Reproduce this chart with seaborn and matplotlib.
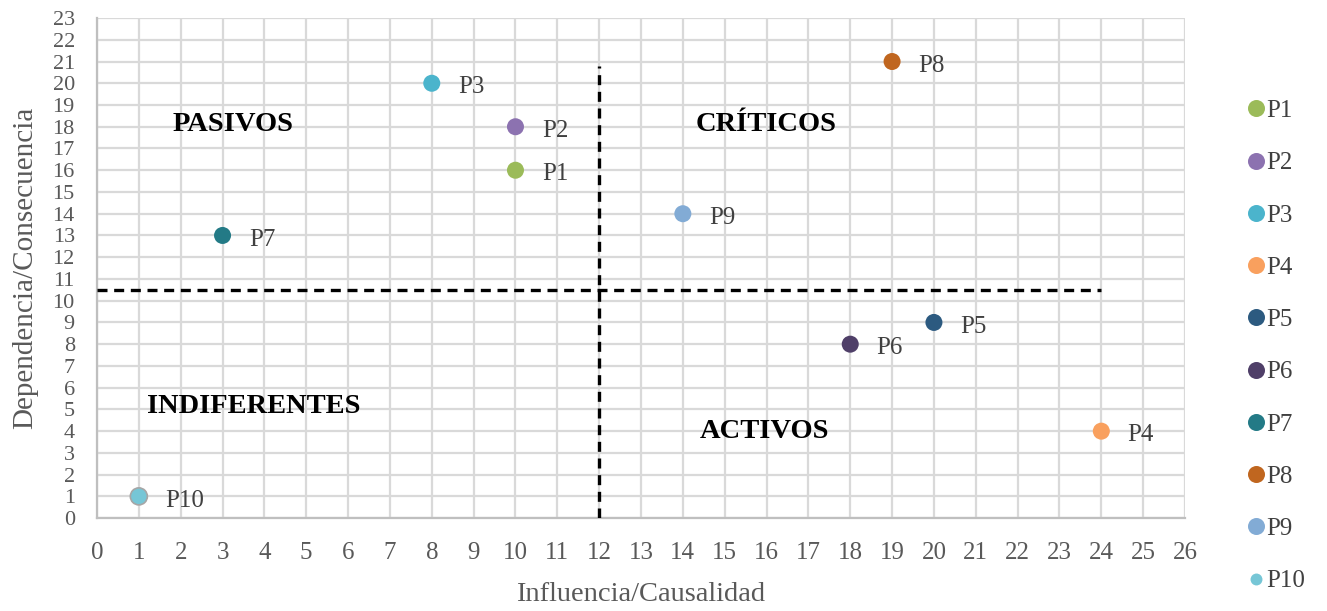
import matplotlib
matplotlib.use("Agg")
import matplotlib.pyplot as plt
import seaborn as sns
import pandas as pd

# ---- data ----
names = ["P1", "P2", "P3", "P4", "P5", "P6", "P7", "P8", "P9", "P10"]
influencia = [10, 10, 8, 24, 20, 18, 3, 19, 14, 1]
dependencia = [16, 18, 20, 4, 9, 8, 13, 21, 14, 1]
colors = ["#9BBB59", "#8C72B0", "#4BB4CC", "#F9A05E", "#2C5A80",
          "#4F3F68", "#237A86", "#C0661F", "#82ABD5", "#76C6D6"]

quad_names = ["PASIVOS", "CRÍTICOS", "INDIFERENTES", "ACTIVOS"]
quad_x = [3.25, 16.0, 3.75, 15.95]
quad_y = [18.1, 18.1, 5.15, 4.0]

x_threshold = 12
y_threshold = 10.5
h_line_xmax = 24
v_line_ymax = 20.8

x_ticks = list(range(0, 27))
y_ticks = list(range(0, 24))

df = pd.DataFrame({"name": names, "Influencia": influencia, "Dependencia": dependencia})

sns.set_theme(style="white")
plt.rcParams["font.family"] = ["Liberation Serif", "DejaVu Serif"]

fig = plt.figure(figsize=(13.27, 6.11), dpi=100)
ax = fig.add_axes([0.0731, 0.152, 0.8199, 0.8185])

grid_c = "#D9D9D9"
text_c = "#595959"

sns.scatterplot(data=df, x="Influencia", y="Dependencia", hue="name",
                palette=colors, s=150, linewidth=0, ax=ax, zorder=4, legend=True)
coll = ax.collections[0]
edges = ["none"] * (len(names) - 1) + ["#A6A6A6"]
coll.set_edgecolors(edges)
coll.set_linewidths([0] * (len(names) - 1) + [1.2])

ax.set_xlim(0, 26)
ax.set_ylim(0, 23)
ax.set_xticks(x_ticks)
ax.set_yticks(y_ticks)
ax.grid(True, color=grid_c, linewidth=1.6)
ax.set_axisbelow(True)
for s in ["top", "right"]:
    ax.spines[s].set_visible(False)
for s in ["left", "bottom"]:
    ax.spines[s].set_color("#BFBFBF")
    ax.spines[s].set_linewidth(1.6)

ax.tick_params(axis="x", labelsize=18, labelcolor=text_c, length=0, pad=17)
ax.tick_params(axis="y", labelsize=16, labelcolor=text_c, length=0, pad=16)
ax.set_xlabel("Influencia/Causalidad", fontsize=20.5, color=text_c, labelpad=13)
ax.set_ylabel("Dependencia/Consecuencia", fontsize=21, color=text_c, labelpad=10)

# threshold lines
ax.plot([0, h_line_xmax], [y_threshold, y_threshold], color="black",
        linestyle=(0, (3.0, 2.0)), linewidth=2.4, zorder=3)
ax.plot([x_threshold, x_threshold], [0, v_line_ymax], color="black",
        linestyle=(0, (3.0, 2.0)), linewidth=2.4, zorder=3)

# point labels
for n, xv, yv in zip(names, influencia, dependencia):
    ax.annotate(n, (xv, yv), xytext=(19, -3), textcoords="offset points",
                fontsize=18, color="#404040", va="center", ha="left")

# quadrant labels
for q, xv, yv in zip(quad_names, quad_x, quad_y):
    ax.text(xv, yv, q, fontsize=20.5, fontweight="bold", color="black",
            ha="center", va="center")

leg = ax.legend(loc="upper left", bbox_to_anchor=(0.928, 0.837),
                bbox_transform=fig.transFigure, frameon=False,
                fontsize=18, labelspacing=1.19, handletextpad=-0.6,
                markerscale=1.0, borderaxespad=0, borderpad=0)
for t in leg.get_texts():
    t.set_color("#404040")
hs = leg.legend_handles
try:
    hs[-1].set_markersize(hs[-1].get_markersize() * 0.7)
except Exception:
    hs[-1].set_sizes([60])

fig.savefig("out.png", dpi=100, facecolor="white")
